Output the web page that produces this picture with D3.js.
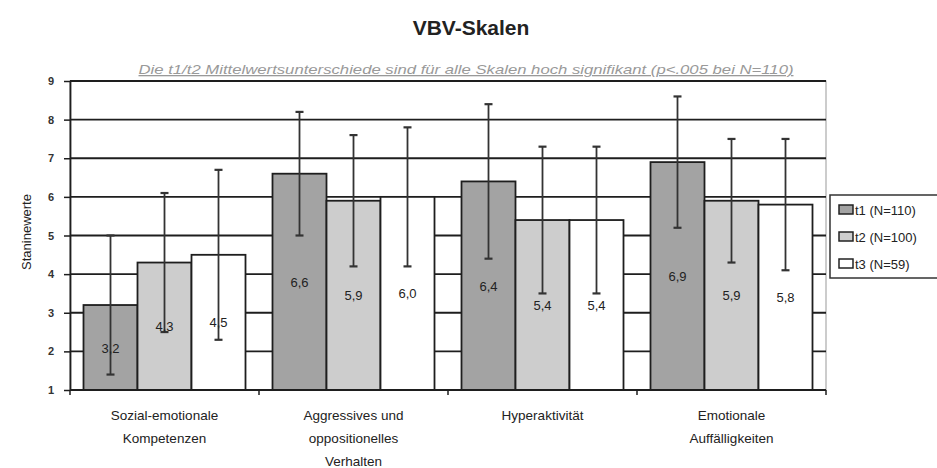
<!DOCTYPE html>
<html><head><meta charset="utf-8">
<script src="https://cdn.jsdelivr.net/npm/d3@7"></script>
<style>
html,body{margin:0;padding:0;background:#fff;}
text{font-family:"Liberation Sans",Arial,sans-serif;}
</style></head>
<body>
<svg id="chart" width="937" height="468"></svg>
<script>
const categories = [
  ["Sozial-emotionale","Kompetenzen"],
  ["Aggressives und","oppositionelles","Verhalten"],
  ["Hyperaktivität"],
  ["Emotionale","Auffälligkeiten"]
];
const seriesNames = ["t1 (N=110)","t2 (N=100)","t3 (N=59)"];
const t1Values = [3.2, 6.6, 6.4, 6.9];
const t2Values = [4.3, 5.9, 5.4, 5.9];
const t3Values = [4.5, 6.0, 5.4, 5.8];
const t1Err = [1.8, 1.6, 2.0, 1.7];
const t2Err = [1.8, 1.7, 1.9, 1.6];
const t3Err = [2.2, 1.8, 1.9, 1.7];
const yTicks = [1,2,3,4,5,6,7,8,9];
const titleText = "VBV-Skalen";
const subtitleText = "Die t1/t2 Mittelwertsunterschiede sind für alle Skalen hoch signifikant (p<.005 bei N=110)";
const yTitle = "Staninewerte";

const values = [t1Values, t2Values, t3Values];
const errs = [t1Err, t2Err, t3Err];
const colors = ["#a3a3a3", "#cdcdcd", "#ffffff"];

const svg = d3.select("#chart");
const L = 70, R = 826, T = 81, B = 390;

const x0 = d3.scaleBand().domain(d3.range(categories.length)).range([L, R]).padding(0);
const x1 = d3.scaleBand().domain(d3.range(seriesNames.length)).range([0, x0.bandwidth()]).paddingInner(0).paddingOuter(0.25);
const y = d3.scaleLinear().domain([1, 9]).range([B, T]);

// title
svg.append("text").attr("x", 471).attr("y", 35).attr("text-anchor", "middle")
  .attr("font-size", 21).attr("font-weight", "bold").attr("fill", "#222").text(titleText);
svg.append("text").attr("x", 466).attr("y", 74).attr("text-anchor", "middle")
  .attr("font-size", 13).attr("font-style", "italic").attr("fill", "#999")
  .attr("text-decoration", "underline")
  .attr("textLength", 655).attr("lengthAdjust", "spacingAndGlyphs").text(subtitleText);

// plot border
svg.append("rect").attr("x", L).attr("y", T).attr("width", R - L).attr("height", B - T)
  .attr("fill", "none").attr("stroke", "#999").attr("stroke-width", 1);

// gridlines
svg.append("g").selectAll("line").data(yTicks.filter(d => d > 1)).join("line")
  .attr("x1", L).attr("x2", R).attr("y1", d => y(d)).attr("y2", d => y(d))
  .attr("stroke", "#1e1e1e").attr("stroke-width", 1.8);

// bars
const groups = svg.append("g").selectAll("g").data(categories).join("g")
  .attr("transform", (d, i) => `translate(${x0(i)},0)`);
groups.each(function(c, ci) {
  const g = d3.select(this);
  seriesNames.forEach((s, si) => {
    const v = values[si][ci];
    g.append("rect").attr("x", x1(si)).attr("y", y(v))
      .attr("width", x1.bandwidth()).attr("height", y(1) - y(v))
      .attr("fill", colors[si]).attr("stroke", "#1e1e1e").attr("stroke-width", 1.8);
  });
  seriesNames.forEach((s, si) => {
    const v = values[si][ci], e = errs[si][ci];
    const cx = x1(si) + x1.bandwidth() / 2;
    g.append("line").attr("x1", cx).attr("x2", cx).attr("y1", y(v + e)).attr("y2", y(v - e))
      .attr("stroke", "#333").attr("stroke-width", 1.8);
    [v + e, v - e].forEach(ev => {
      g.append("line").attr("x1", cx - 4).attr("x2", cx + 4).attr("y1", y(ev)).attr("y2", y(ev))
        .attr("stroke", "#333").attr("stroke-width", 2.2);
    });
  });
  seriesNames.forEach((s, si) => {
    const v = values[si][ci];
    const cx = x1(si) + x1.bandwidth() / 2;
    g.append("text").attr("x", cx).attr("y", (y(v) + y(1)) / 2 + 5)
      .attr("text-anchor", "middle").attr("font-size", 13).attr("fill", "#222")
      .text(d3.format(".1f")(v).replace(".", ","));
  });
});

// y axis
const yAxis = svg.append("g").attr("transform", `translate(${L},0)`)
  .call(d3.axisLeft(y).tickValues(yTicks).tickFormat(d3.format("d")).tickSize(6).tickSizeOuter(0).tickPadding(10));
yAxis.select(".domain").attr("stroke", "#1e1e1e").attr("stroke-width", 1.8);
yAxis.selectAll(".tick line").attr("stroke", "#1e1e1e").attr("stroke-width", 1.5);
yAxis.selectAll(".tick text").attr("font-size", 11).attr("font-weight", "bold").attr("fill", "#333").attr("font-family", "Liberation Sans, Arial, sans-serif");

// x axis
const xAxisG = svg.append("g").attr("transform", `translate(0,${B})`);
xAxisG.append("line").attr("x1", L).attr("x2", R).attr("y1", 0).attr("y2", 0).attr("stroke", "#1e1e1e").attr("stroke-width", 1.8);
xAxisG.selectAll("line.tk").data(d3.range(categories.length + 1)).join("line").attr("class", "tk")
  .attr("x1", i => L + i * x0.step()).attr("x2", i => L + i * x0.step())
  .attr("y1", 0).attr("y2", 5).attr("stroke", "#1e1e1e").attr("stroke-width", 1.5);
categories.forEach((lines, ci) => {
  const t = xAxisG.append("text").attr("text-anchor", "middle").attr("font-size", 13.5).attr("fill", "#222");
  lines.forEach((ln, li) => {
    t.append("tspan").attr("x", x0(ci) + x0.bandwidth() / 2).attr("y", 30 + li * 23).text(ln);
  });
});

// y title
svg.append("text").attr("transform", "translate(31,232) rotate(-90)").attr("text-anchor", "middle")
  .attr("font-size", 13).attr("fill", "#222").text(yTitle);

// legend
const lg = svg.append("g");
lg.append("rect").attr("x", 830).attr("y", 195).attr("width", 110).attr("height", 83)
  .attr("fill", "#fff").attr("stroke", "#333").attr("stroke-width", 1.5);
seriesNames.forEach((s, si) => {
  const yy = 210 + si * 27;
  lg.append("rect").attr("x", 839).attr("y", yy - 5).attr("width", 14).attr("height", 9)
    .attr("fill", colors[si]).attr("stroke", "#222").attr("stroke-width", 1.5);
  lg.append("text").attr("x", 855).attr("y", yy + 5).attr("font-size", 13).attr("fill", "#222").text(s);
});
</script>
</body></html>
